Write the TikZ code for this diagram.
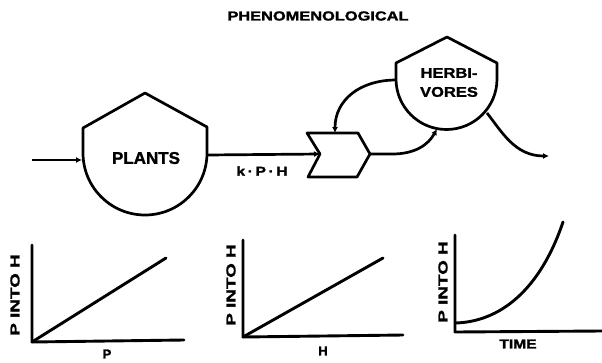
\documentclass[tikz,border=0pt]{standalone}
\usepackage{fontspec}
\usepackage{graphicx}
\setmainfont{Liberation Sans}[BoldFeatures={FakeBold=1.5}]
\usetikzlibrary{arrows.meta}
\begin{document}
\begin{tikzpicture}[x=1pt,y=-1pt, line width=2.7pt, line join=round,
  lbl/.style={font=\bfseries\fontsize{13}{13}\selectfont, inner sep=0pt},
  flow/.style={-{Latex[length=6pt,width=6pt]}},
  axis/.style={line width=2.9pt, line cap=round},
]
\useasboundingbox (0,0) rectangle (602,362);

% title
\node[lbl] (title) at (318,16) {\scalebox{1.26}[1]{PHENOMENOLOGICAL}};

% plants tank
\draw (145,93) -- (207,127) -- (207,153) arc[start angle=0,end angle=-180,radius=62pt] -- (83,128) -- cycle;
\node[lbl, font=\bfseries\fontsize{17}{17}\selectfont] (plants) at (146,158) {PLANTS};
\coordinate (plantsW) at (82,160);
\coordinate (plantsE) at (207,155);
\coordinate (src) at (32,160);

% herbivores
\draw (447,37) -- (497,63) -- (497,79) arc[start angle=0,end angle=-180,radius=50.5pt] -- (396,63) -- cycle;
\node[lbl, font=\bfseries\fontsize{14}{19}\selectfont, align=center] (herb) at (449,82.5)
  {\scalebox{1.18}[1]{HERBI-}\\\scalebox{1.18}[1]{VORES}};
\coordinate (herbW) at (396,80);
\coordinate (herbS) at (437,129);
\coordinate (herbSE) at (487,113);
\coordinate (sink) at (549,156);

% interaction gate
\draw (307,133) -- (358,133) -- (370,154) -- (357,177) -- (308,177) -- (320,154) -- cycle;
\coordinate (gateW) at (320,154);
\coordinate (gateN) at (335,133);
\coordinate (gateE) at (370,154);
\coordinate (gateE2) at (392,154);

% connectors
\draw[flow] (src) -- (plantsW);
\draw[flow] (plantsE) -- (gateW);
\node[lbl] (kph) at (262,171) {\scalebox{1.2}[1]{k\,·\,P\,·\,H}};
\draw[flow] (herbW) .. controls (360,80) and (335,100) .. (gateN);
\draw[flow] (gateE) -- (gateE2) .. controls (415,154) and (428,145) .. (herbS);
\draw[flow] (herbSE) .. controls (502,132) and (515,156) .. (sink);

% graph 1
\coordinate (o1) at (32,342);
\coordinate (y1) at (32,245);
\coordinate (x1) at (184,340);
\coordinate (e1) at (166,258);
\draw[axis] (y1) -- (o1) -- (x1);
\draw[axis] (o1) -- (e1);
\node[lbl, rotate=90] (yl1) at (15,295) {\scalebox{1.45}[1]{P INTO H}};
\node[lbl] (xl1) at (107,354) {P};

% graph 2
\coordinate (o2) at (243,337);
\coordinate (y2) at (243,240);
\coordinate (x2) at (403,335);
\coordinate (e2) at (383,258);
\draw[axis] (y2) -- (o2) -- (x2);
\draw[axis] (o2) -- (e2);
\node[lbl, rotate=90] (yl2) at (231,285) {\scalebox{1.45}[1]{P INTO H}};
\node[lbl] (xl2) at (323,351) {H};

% graph 3
\coordinate (o3) at (455,332);
\coordinate (y3) at (455,235);
\coordinate (x3) at (602,331);
\coordinate (c3) at (455,323);
\coordinate (e3) at (563,222);
\draw[axis] (y3) -- (o3) -- (x3);
\draw[axis] (c3) .. controls (500,322) and (540,290) .. (e3);
\node[lbl, rotate=90] (yl3) at (443,282) {\scalebox{1.45}[1]{P INTO H}};
\node[lbl] (xl3) at (518,344) {\scalebox{1.2}[1]{TIME}};
\end{tikzpicture}
\end{document}
